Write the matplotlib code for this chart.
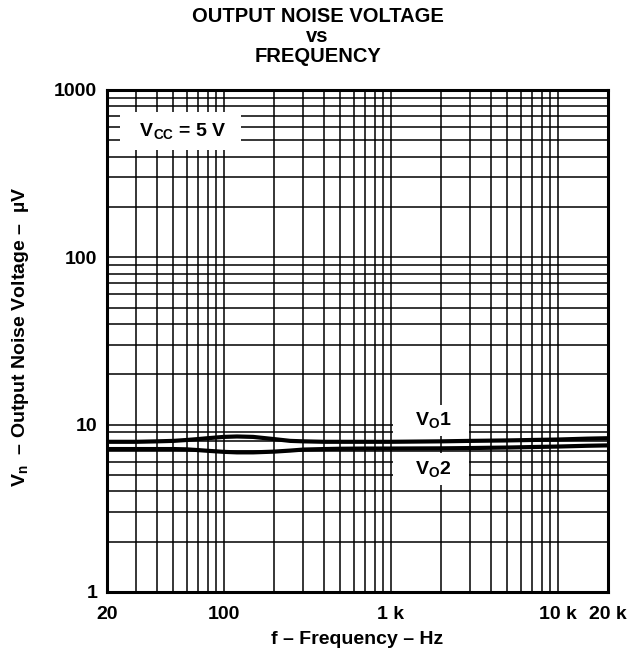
import matplotlib
matplotlib.use("Agg")
import matplotlib.pyplot as plt
from matplotlib.ticker import FixedLocator, NullFormatter, NullLocator

plt.rcParams["font.family"] = ["Liberation Sans", "DejaVu Sans"]
plt.rcParams["font.weight"] = "bold"
plt.rcParams["mathtext.fontset"] = "custom"
plt.rcParams["mathtext.rm"] = "Liberation Sans:bold"
plt.rcParams["mathtext.it"] = "Liberation Sans:bold"
plt.rcParams["mathtext.bf"] = "Liberation Sans:bold"

# data
freq = [20, 30, 40, 50, 60, 70, 80, 100, 120, 150, 200, 250, 300, 400, 500,
        700, 1000, 2000, 3000, 5000, 7000, 10000, 15000, 20000]
vo1 = [7.9, 7.9, 7.95, 8.0, 8.1, 8.2, 8.3, 8.45, 8.5, 8.45, 8.2, 8.0, 7.95,
       7.9, 7.9, 7.9, 7.9, 7.95, 8.0, 8.05, 8.1, 8.15, 8.25, 8.3]
vo2 = [7.15, 7.15, 7.15, 7.15, 7.12, 7.05, 6.98, 6.88, 6.83, 6.83, 6.9,
       7.0, 7.1, 7.15, 7.18, 7.2, 7.2, 7.22, 7.25, 7.3, 7.35, 7.4, 7.48, 7.52]

x_ticks = [20, 100, 1000, 10000, 20000]
x_labels = ["20", "100", "1 k", "10 k", "20 k"]
y_ticks = [1, 10, 100, 1000]
y_labels = ["1", "10", "100", "1000"]

x_grid = [m * 10 ** d for d in range(1, 5) for m in range(1, 10)]
x_grid = [v for v in x_grid if 20 <= v <= 20000]
y_grid = [m * 10 ** d for d in range(0, 3) for m in range(1, 10)] + [1000]

FS = 14

fig = plt.figure(figsize=(6.35, 6.61), dpi=100)
ax = fig.add_axes([107 / 635, 1 - 592 / 661, 501 / 635, 502 / 661])
ax.set_xscale("log")
ax.set_yscale("log")
ax.set_xlim(20, 20000)
ax.set_ylim(1, 1000)

for v in x_grid:
    ax.axvline(v, color="black", lw=1.1, zorder=1)
for v in y_grid:
    ax.axhline(v, color="black", lw=1.1, zorder=1)

ax.plot(freq, vo1, color="black", lw=3, zorder=4.5)
ax.plot(freq, vo2, color="black", lw=3, zorder=4.5)

ax.xaxis.set_major_locator(FixedLocator(x_ticks))
ax.xaxis.set_minor_locator(NullLocator())
ax.xaxis.set_minor_formatter(NullFormatter())
ax.set_xticklabels(x_labels)
ax.yaxis.set_major_locator(FixedLocator(y_ticks))
ax.yaxis.set_minor_locator(NullLocator())
ax.yaxis.set_minor_formatter(NullFormatter())
ax.set_yticklabels(y_labels)
ax.tick_params(axis="x", length=0, labelsize=FS, pad=10)
ax.tick_params(axis="y", length=0, labelsize=FS, pad=7)
for lab in ax.get_xticklabels() + ax.get_yticklabels():
    lab.set_fontweight("bold")

for s in ax.spines.values():
    s.set_linewidth(2.2)
    s.set_zorder(5)

box = dict(facecolor="white", edgecolor="none", boxstyle="square,pad=0.45")
box_small = dict(facecolor="white", edgecolor="none", boxstyle="square,pad=0.3")
ax.text(55, 568, "  V$_{\\mathrm{CC}}$ = 5 V  ", fontsize=FS, fontweight="bold",
        ha="center", va="center", bbox=box, zorder=4)
ax.text(1740, 10.6, "   V$_{\\mathrm{O}}$1   ", fontsize=FS, fontweight="bold",
        ha="center", va="center", bbox=box_small, zorder=4)
ax.text(1740, 5.45, "   V$_{\\mathrm{O}}$2   ", fontsize=FS, fontweight="bold",
        ha="center", va="center", bbox=box_small, zorder=4)

fig.text(0.5, 1 - 16 / 661, "OUTPUT NOISE VOLTAGE", ha="center", va="center",
         fontsize=14.5, fontweight="bold")
fig.text(0.5, 1 - 37 / 661, "vs", ha="center", va="center",
         fontsize=14.5, fontweight="bold")
fig.text(0.5, 1 - 56 / 661, "FREQUENCY", ha="center", va="center",
         fontsize=14.5, fontweight="bold")

fig.text(357 / 635, 1 - 640 / 661, "f – Frequency – Hz", ha="center",
         va="center", fontsize=FS, fontweight="bold")
fig.text(21 / 635, 1 - 337 / 661, "V$_{\\mathrm{n}}$  – Output Noise Voltage –  µV",
         ha="center", va="center", rotation=90, fontsize=FS, fontweight="bold")

fig.savefig("out.png", dpi=100)
plt.close(fig)
